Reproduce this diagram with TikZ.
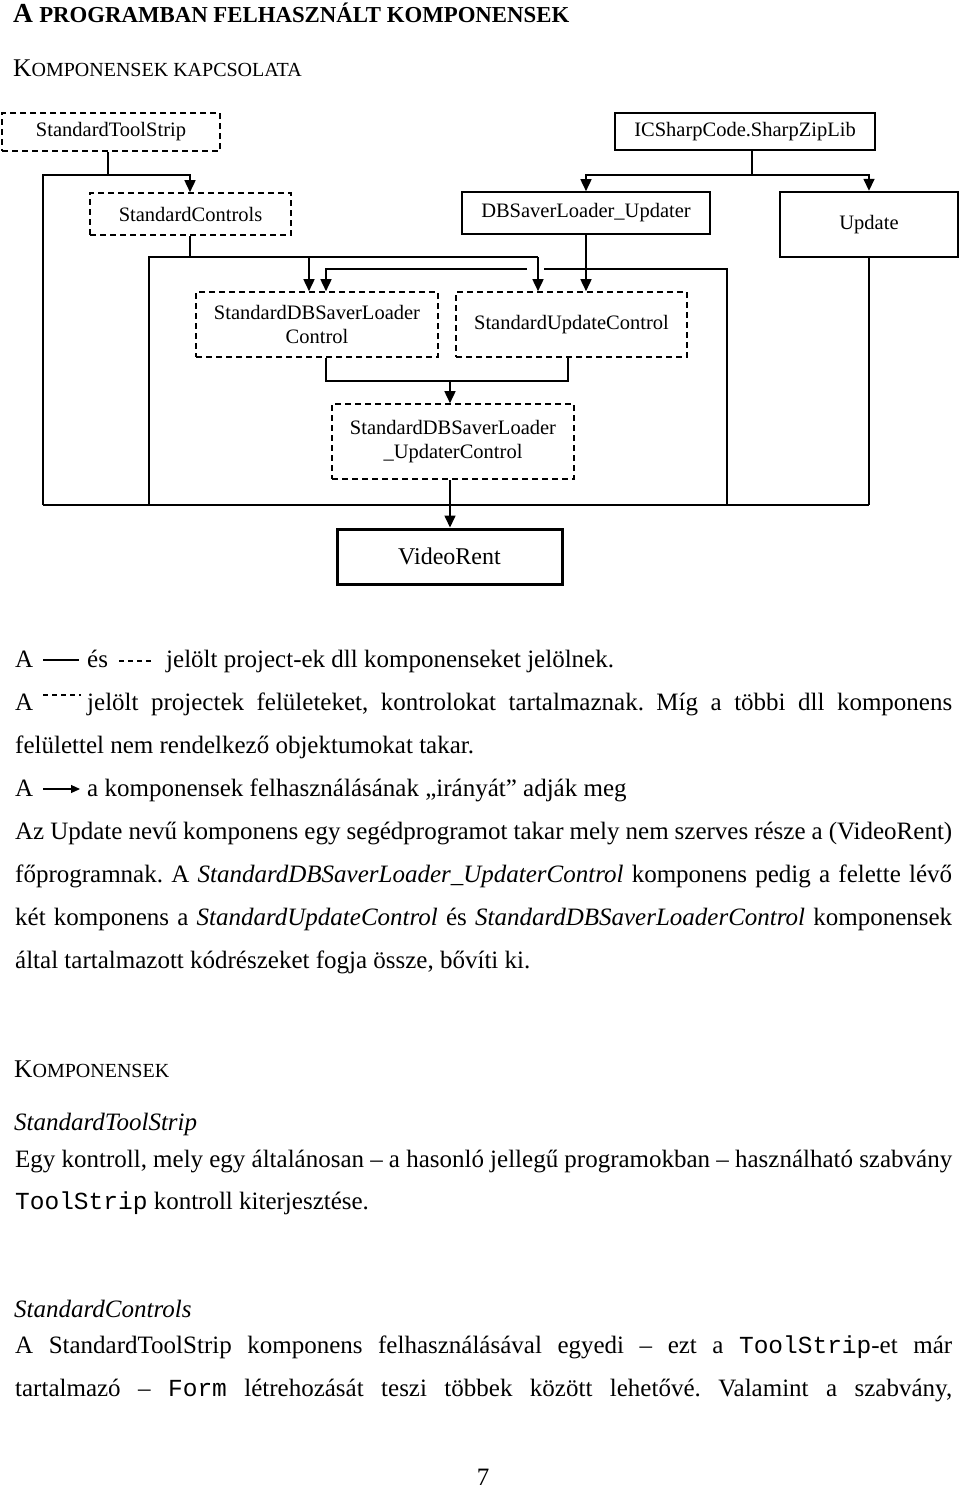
\documentclass[tikz,border=0pt]{standalone}
\usepackage{fontspec}
\setmainfont{Liberation Serif}
\setmonofont{Liberation Mono}
\usetikzlibrary{arrows.meta}
\tikzset{
  box/.style={draw, line width=1.6pt, inner sep=0pt, align=center, font=\fontsize{20.5}{24}\selectfont},
  dbox/.style={box, dash pattern=on 6pt off 4pt},
  ln/.style={line width=1.6pt},
  arr/.style={ln, -{Triangle[length=12pt,width=11pt]}},
  txt/.style={anchor=base west, inner sep=0pt, font=\fontsize{25}{25}\selectfont\frenchspacing},
}
\newcommand{\bigsc}[2]{{\fontsize{#1}{#1}\selectfont #2}}
\newcommand{\mono}[1]{{\ttfamily\fontsize{24.5}{24.5}\selectfont #1}}
\begin{document}
\begin{tikzpicture}[x=1pt,y=-1pt]
\useasboundingbox[fill=white] (0,0) rectangle (960,1489);
% headings
\node[txt] (h1) at (13,22) {\bfseries\bigsc{27.5}{A} \bigsc{22.8}{PROGRAMBAN FELHASZNÁLT KOMPONENSEK}};
\node[txt] (h2) at (13,76) {\bigsc{25.5}{K}\bigsc{20}{OMPONENSEK KAPCSOLATA}};
% boxes
\node[dbox, minimum width=218pt, minimum height=38pt] (tool) at (111,132) {StandardToolStrip};
\node[box, minimum width=260pt, minimum height=37pt] (ics) at (745,131.5) {ICSharpCode.SharpZipLib};
\node[dbox, minimum width=201pt, minimum height=42pt] (sc) at (190.5,214) {StandardControls};
\node[box, minimum width=248pt, minimum height=42pt] (dbu) at (586,213) {DBSaverLoader\_Updater};
\node[box, line width=2.4pt, minimum width=178pt, minimum height=65pt] (upd) at (869,224.5) {Update};
\node[dbox, minimum width=242pt, minimum height=65pt] (sdb) at (317,324.5) {StandardDBSaverLoader\\Control};
\node[dbox, minimum width=231pt, minimum height=65pt] (suc) at (571.5,324.5) {StandardUpdateControl};
\node[dbox, minimum width=242pt, minimum height=75pt] (sdbu) at (453,441.5) {StandardDBSaverLoader\\\_UpdaterControl};
\node[box, line width=3pt, minimum width=225pt, minimum height=55pt, font=\fontsize{24}{24}\selectfont] (vr) at (449.5,556.5) {VideoRent};
% junction coordinates
\coordinate (a1) at (108,175);
\coordinate (a0) at (43,175);
\coordinate (bL) at (43,505);
\coordinate (c1) at (190,257);
\coordinate (c0) at (149,257);
\coordinate (c3) at (538,257);
\coordinate (c2) at (309,257);
\coordinate (bC) at (149,505);
\coordinate (d0) at (727,505);
\coordinate (d1) at (727,269);
\coordinate (d2) at (544,269);
\coordinate (d3) at (527,269);
\coordinate (d4) at (326,269);
\coordinate (e1) at (752,175);
\coordinate (e0) at (586,175);
\coordinate (e2) at (869,175);
\coordinate (bR) at (869,505);
\coordinate (f0) at (326,381);
\coordinate (f1) at (568,381);
\coordinate (f2) at (450,381);
% connectors
\draw[ln] (tool.south -| a1) -- (a1);
\draw[ln] (bL) -- (a0) -- (a1);
\draw[arr] (a1) -| (sc.north -| c1);
\draw[ln] (sc.south -| c1) -- (c1);
\draw[ln] (bC) -- (c0) -- (c3);
\draw[arr] (c3) -- (c3 |- suc.north);
\draw[arr] (c2) -- (c2 |- sdb.north);
\draw[arr] (dbu.south) -- (dbu.south |- suc.north);
\draw[ln] (d0) -- (d1) -- (d2);
\draw[arr] (d3) -- (d4) -- (d4 |- sdb.north);
\draw[ln] (ics.south -| e1) -- (e1);
\draw[arr] (e1) -- (e0) -- (e0 |- dbu.north);
\draw[arr] (e1) -- (e2) -- (e2 |- upd.north);
\draw[ln] (upd.south) -- (bR);
\draw[ln] (bL) -- (bR);
\draw[ln] (sdb.south -| f0) -- (f0) -- (f1) -- (f1 |- suc.south);
\draw[arr] (f2) -- (f2 |- sdbu.north);
\draw[arr] (sdbu.south -| f2) -- (vr.north -| f2);
% legend text
\node[txt] (l1a) at (15,667) {A};
\coordinate (s0) at (43,660); \coordinate (s1) at (79,660);
\draw[line width=1.2pt] (s0) -- (s1);
\node[txt] (l1b) at (87,667) {és};
\coordinate (t0) at (119,661); \coordinate (t1) at (153,661);
\draw[line width=1.2pt, dash pattern=on 5pt off 4pt] (t0) -- (t1);
\node[txt] (l1c) at (166,667) {jelölt project-ek dll komponenseket jelölnek.};
\node[txt] (l2a) at (15,710) {A};
\coordinate (u0) at (43,695); \coordinate (u1) at (81,695);
\draw[line width=1.2pt, dash pattern=on 5pt off 4pt] (u0) -- (u1);
\node[txt] (l2b) at (87,710) {\makebox[865pt][s]{jelölt projectek felületeket, kontrolokat tartalmaznak. Míg a többi dll komponens}};
\node[txt] (l3) at (15,753) {felülettel nem rendelkező objektumokat takar.};
\node[txt] (l4a) at (15,796) {A};
\coordinate (v0) at (43,789); \coordinate (v1) at (80,789);
\draw[line width=1.2pt, -{Triangle[length=9pt,width=8pt]}] (v0) -- (v1);
\node[txt] (l4b) at (87,796) {a komponensek felhasználásának „irányát” adják meg};
\node[txt] (l5) at (15,839) {\makebox[937pt][s]{Az Update nevű komponens egy segédprogramot takar mely nem szerves része a (VideoRent)}};
\node[txt] (l6) at (15,882) {\makebox[937pt][s]{főprogramnak. A \textit{StandardDBSaverLoader\_UpdaterControl} komponens pedig a felette lévő}};
\node[txt] (l7) at (15,925) {\makebox[937pt][s]{két komponens a \textit{StandardUpdateControl} és \textit{StandardDBSaverLoaderControl} komponensek}};
\node[txt] (l8) at (15,968) {által tartalmazott kódrészeket fogja össze, bővíti ki.};
% components section
\node[txt] (k1) at (14,1077) {\bigsc{25.5}{K}\bigsc{20}{OMPONENSEK}};
\node[txt] (k2) at (14,1130) {\textit{StandardToolStrip}};
\node[txt] (k3) at (15,1167) {\makebox[937pt][s]{Egy kontroll, mely egy általánosan – a hasonló jellegű programokban – használható szabvány}};
\node[txt] (k4) at (15,1209) {\mono{ToolStrip} kontroll kiterjesztése.};
\node[txt] (k5) at (14,1317) {\textit{StandardControls}};
\node[txt] (k6) at (15,1353) {\makebox[937pt][s]{A StandardToolStrip komponens felhasználásával egyedi – ezt a \mono{ToolStrip}-et már}};
\node[txt] (k7) at (15,1396) {\makebox[937pt][s]{tartalmazó – \mono{Form} létrehozását teszi többek között lehetővé. Valamint a szabvány,}};
\node[anchor=base, inner sep=0pt, font=\fontsize{25}{25}\selectfont] (pg) at (483,1485) {7};
\end{tikzpicture}
\end{document}
